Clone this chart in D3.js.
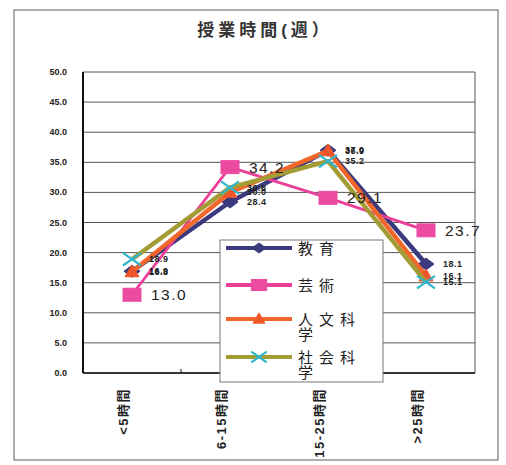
<!DOCTYPE html>
<html>
<head>
<meta charset="utf-8">
<script src="https://cdn.jsdelivr.net/npm/d3@7"></script>
<style>
  body { margin: 0; background: #fff; }
  svg { display: block; font-family: "Liberation Sans", "Noto Sans CJK JP", sans-serif; }
</style>
</head>
<body>
<svg id="chart" width="506" height="465"></svg>
<script>
// データ
const categories = ["<5時間", "6-15時間", "15-25時間", ">25時間"];
const seriesNames = ["教育", "芸術", "人文科学", "社会科学"];
const kyoiku = [16.9, 28.4, 37.0, 18.1];
const geijutsu = [13.0, 34.2, 29.1, 23.7];
const jinbun = [16.8, 30.0, 36.9, 16.1];
const shakai = [18.9, 30.8, 35.2, 15.1];
const yTicks = [0, 5, 10, 15, 20, 25, 30, 35, 40, 45, 50];
const legendLines = [["教育"], ["芸術"], ["人文科", "学"], ["社会科", "学"]];

const svg = d3.select("#chart");

// 枠
svg.append("rect")
    .attr("x", 14).attr("y", 10)
    .attr("width", 484).attr("height", 450)
    .attr("fill", "none")
    .attr("stroke", "#777")
    .attr("stroke-width", 1.2);

// タイトル
svg.append("text")
    .attr("x", 265).attr("y", 36)
    .attr("text-anchor", "middle")
    .attr("font-size", 17)
    .attr("font-weight", "bold")
    .attr("letter-spacing", 4)
    .attr("fill", "#333")
    .text("授業時間(週）");

const plotL = 83, plotR = 475, plotT = 72, plotB = 373;
const x = d3.scaleBand().domain(categories).range([plotL, plotR]);
const y = d3.scaleLinear().domain([0, 50]).range([plotB, plotT]);
const cx = c => x(c) + x.bandwidth() / 2;

// グリッド
svg.append("g")
    .selectAll("line")
    .data(yTicks)
    .join("line")
    .attr("x1", plotL).attr("x2", plotR)
    .attr("y1", d => y(d)).attr("y2", d => y(d))
    .attr("stroke", "#444")
    .attr("stroke-width", 0.9);

svg.append("line")
    .attr("x1", plotR).attr("x2", plotR)
    .attr("y1", plotT).attr("y2", plotB)
    .attr("stroke", "#555");

// 軸
svg.append("line")
    .attr("x1", plotL).attr("x2", plotL)
    .attr("y1", plotT).attr("y2", plotB)
    .attr("stroke", "#111").attr("stroke-width", 2);
svg.append("line")
    .attr("x1", plotL).attr("x2", plotR)
    .attr("y1", plotB).attr("y2", plotB)
    .attr("stroke", "#111").attr("stroke-width", 1.5);

svg.append("g")
    .selectAll("line")
    .data(categories.slice(1))
    .join("line")
    .attr("x1", d => x(d)).attr("x2", d => x(d))
    .attr("y1", plotB - 4).attr("y2", plotB)
    .attr("stroke", "#111");

svg.append("g")
    .selectAll("text")
    .data(yTicks)
    .join("text")
    .attr("x", 67)
    .attr("y", d => y(d))
    .attr("text-anchor", "end")
    .attr("dominant-baseline", "central")
    .attr("font-size", 9)
    .attr("font-weight", "bold")
    .attr("fill", "#222")
    .text(d => d.toFixed(1));

svg.append("g")
    .selectAll("text")
    .data(categories)
    .join("text")
    .attr("transform", d => `translate(${cx(d) - 9},388) rotate(-90)`)
    .attr("text-anchor", "end")
    .attr("dominant-baseline", "central")
    .attr("font-size", 13)
    .attr("font-weight", "bold")
    .attr("letter-spacing", 1.5)
    .attr("fill", "#222")
    .text(d => d);

// マーカー
const markers = {
    diamond: (g, w) => g.append("path").attr("d", `M${-w},0 L0,${-w * 0.75} L${w},0 L0,${w * 0.75} Z`),
    square: (g, w) => g.append("rect").attr("x", -w).attr("y", -w * 0.72).attr("width", 2 * w).attr("height", 1.44 * w),
    triangle: (g, w) => g.append("path").attr("d", `M0,${-w} L${w},${w * 0.7} L${-w},${w * 0.7} Z`),
    cross: (g, w) => g.append("path").attr("d", `M${-w},${-w * 0.7} L${w},${w * 0.7} M${-w},${w * 0.7} L${w},${-w * 0.7}`)
        .attr("fill", "none").attr("stroke-width", 2.2)
};

const series = [
    { name: seriesNames[0], values: kyoiku, line: "#3b3a7e", mark: "#3b3a7e", shape: "diamond", size: 8, width: 4.5, big: false },
    { name: seriesNames[1], values: geijutsu, line: "#ec3f9a", mark: "#ec4aa0", shape: "square", size: 9, width: 2.8, big: true },
    { name: seriesNames[2], values: jinbun, line: "#f2652b", mark: "#f0552a", shape: "triangle", size: 7, width: 4.5, big: false },
    { name: seriesNames[3], values: shakai, line: "#a39b34", mark: "#2fb6cc", shape: "cross", size: 9, width: 4.5, big: false }
];

const line = d3.line()
    .x((d, i) => cx(categories[i]))
    .y(d => y(d));

series.forEach(s => {
    svg.append("path")
        .attr("d", line(s.values))
        .attr("fill", "none")
        .attr("stroke", s.line)
        .attr("stroke-width", s.width)
        .attr("stroke-linejoin", "round");

    s.values.forEach((v, i) => {
        const g = svg.append("g")
            .attr("transform", `translate(${cx(categories[i])},${y(v)})`)
            .attr("fill", s.mark)
            .attr("stroke", s.mark);
        markers[s.shape](g, s.size);
    });
});

// データラベル
series.forEach(s => {
    svg.append("g")
        .selectAll("text")
        .data(s.values)
        .join("text")
        .attr("x", (d, i) => cx(categories[i]) + (s.big ? 19 : 17))
        .attr("y", d => y(d))
        .attr("dominant-baseline", "central")
        .attr("font-size", s.big ? 15.5 : 9)
        .attr("font-weight", s.big ? "normal" : "bold")
        .attr("letter-spacing", s.big ? 1.5 : 0.5)
        .attr("fill", "#222")
        .text(d => d.toFixed(1));
});

// 凡例
const legend = svg.append("g");
legend.append("rect")
    .attr("x", 220).attr("y", 240)
    .attr("width", 163).attr("height", 142)
    .attr("fill", "#fff")
    .attr("stroke", "#777");

const legendY = [248, 285, 319, 357];
series.forEach((s, i) => {
    const ly = legendY[i];
    legend.append("line")
        .attr("x1", 226).attr("x2", 292)
        .attr("y1", ly).attr("y2", ly)
        .attr("stroke", s.line)
        .attr("stroke-width", 4);
    const g = legend.append("g")
        .attr("transform", `translate(259,${ly})`)
        .attr("fill", s.mark)
        .attr("stroke", s.mark);
    markers[s.shape](g, s.size * 0.85);
    const t = legend.append("text")
        .attr("x", 298).attr("y", ly)
        .attr("dominant-baseline", "central")
        .attr("font-size", 15)
        .attr("letter-spacing", 6)
        .attr("fill", "#222");
    legendLines[i].forEach((txt, k) => {
        t.append("tspan")
            .attr("x", 298)
            .attr("dy", k === 0 ? 0 : 15)
            .text(txt);
    });
});
</script>
</body>
</html>
